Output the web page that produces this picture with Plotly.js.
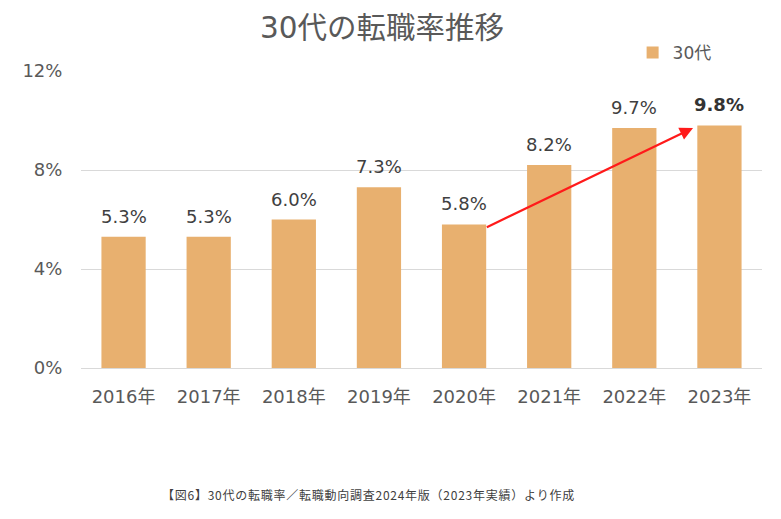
<!DOCTYPE html>
<html><head><meta charset="utf-8">
<script src="https://cdn.plot.ly/plotly-3.0.1.min.js"></script>
<style>body{margin:0;background:#fff}#chart{width:781px;height:519px}</style>
</head><body><div id="chart"></div>
<script>
const categories = ["2016年","2017年","2018年","2019年","2020年","2021年","2022年","2023年"];
const rates = [5.3, 5.3, 6.0, 7.3, 5.8, 8.2, 9.7, 9.8];
const labels = ["5.3%","5.3%","6.0%","7.3%","5.8%","8.2%","9.7%","9.8%"];
const yTickVals = [0, 4, 8, 12];
const yTickText = ["0%","4%","8%","12%"];
const seriesName = "30代";
const titleText = "30代の転職率推移";
const sourceText = "【図6】30代の転職率／転職動向調査2024年版（2023年実績）より作成";

const FONT = "'DejaVu Sans', 'Noto Sans CJK JP', sans-serif";
const annotations = categories.map((c, i) => ({
  x: c, y: rates[i], xref: 'x', yref: 'y',
  text: i === categories.length - 1 ? '<b>' + labels[i] + '</b>' : labels[i],
  showarrow: false, yanchor: 'bottom', yshift: 8,
  font: {family: FONT, size: 18, color: i === categories.length - 1 ? '#333333' : '#404040'}
}));
// trend arrow from 2020 bar to 2023 bar
annotations.push({
  x: 6.69, y: 9.7, ax: 4.25, ay: 5.66, xref: 'x', yref: 'y', axref: 'x', ayref: 'y',
  showarrow: true, arrowhead: 2, arrowsize: 1.2, arrowwidth: 2.2, arrowcolor: '#FF1A1A', text: ''
});
annotations.push({
  text: sourceText.split('').join('\u200A'), xref: 'paper', yref: 'paper', x: (368-81)/681, y: -(494-368)/297,
  showarrow: false, xanchor: 'center', yanchor: 'middle',
  font: {family: "'Noto Sans CJK JP', sans-serif", size: 12, color: '#404040'}
});

const data = [{
  type: 'bar', x: categories, y: rates, name: seriesName,
  marker: {color: '#E8B06F'}, showlegend: true, hoverinfo: 'skip'
}];
const layout = {
  width: 781, height: 519,
  margin: {l: 81, r: 19, t: 71, b: 151},
  paper_bgcolor: '#ffffff', plot_bgcolor: '#ffffff',
  title: {text: titleText, x: 382/781, xanchor: 'center', y: 1 - 28/519, yanchor: 'middle', yref: 'container',
          font: {family: FONT, size: 29.5, color: '#595959'}},
  bargap: 0.48,
  xaxis: {type: 'category', showgrid: false, zeroline: false, showline: false,
          ticks: 'outside', ticklen: 12, tickcolor: 'rgba(0,0,0,0)',
          tickfont: {family: FONT, size: 18, color: '#595959'}},
  yaxis: {range: [0, 12], tickvals: yTickVals, ticktext: yTickText,
          showgrid: true, gridcolor: '#d9d9d9', gridwidth: 1, zeroline: true, zerolinecolor: '#d9d9d9',
          ticks: 'outside', ticklen: 14, tickcolor: 'rgba(0,0,0,0)',
          tickfont: {family: FONT, size: 18, color: '#595959'}},
  legend: {orientation: 'h', x: 0.81, y: 1.0, xanchor: 'left', yanchor: 'bottom',
           font: {family: FONT, size: 17, color: '#595959'}, itemwidth: 30},
  annotations: annotations
};
Plotly.newPlot('chart', data, layout, {displayModeBar: false, staticPlot: true});
</script></body></html>
